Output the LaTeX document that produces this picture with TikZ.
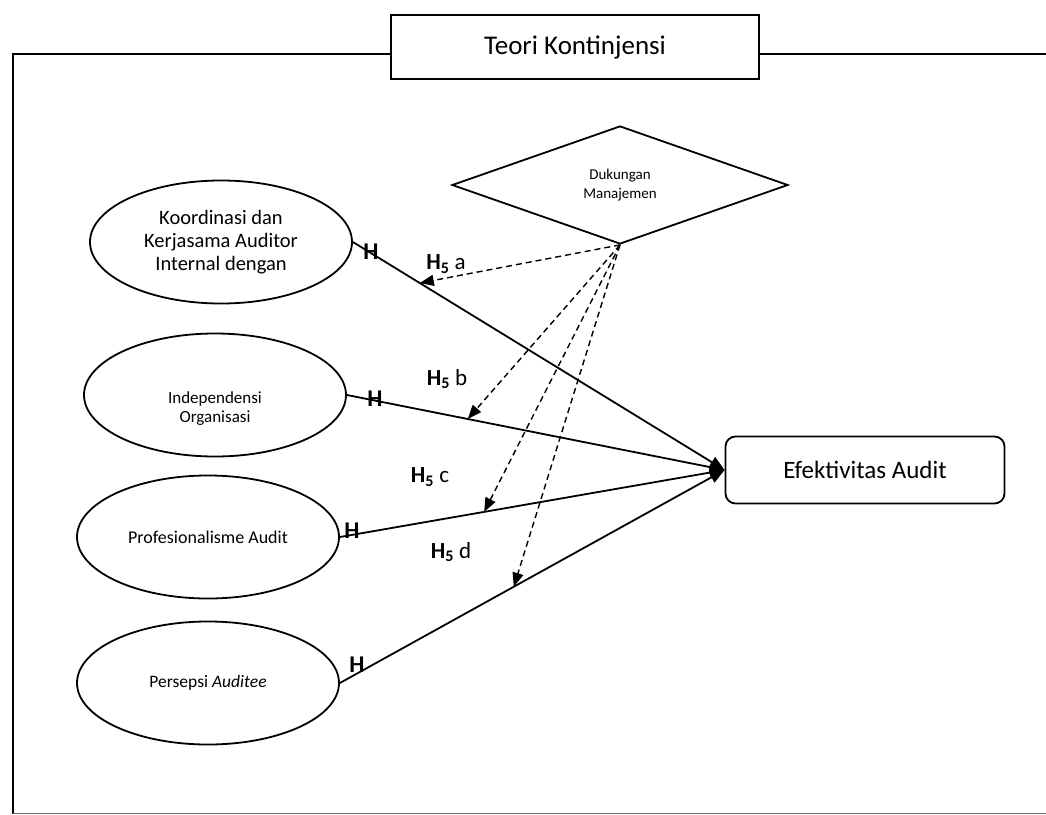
\documentclass[tikz,border=0pt]{standalone}
\usepackage{fontspec}
\setmainfont{Carlito}
\usepackage{tikz}
\usetikzlibrary{shapes.geometric, arrows.meta, positioning}
\definecolor{framegray}{RGB}{110,110,110}

\begin{document}
\begin{tikzpicture}[x=1pt, y=-1pt,
    oval/.style={ellipse, draw, line width=1.8pt, minimum width=262pt, minimum height=123pt, inner sep=0pt, align=center},
    link/.style={line width=1.8pt, -{Triangle[length=15pt, width=12pt]}},
    moder/.style={line width=1.4pt, dash pattern=on 6pt off 4pt, -{Triangle[length=14pt, width=11pt]}},
    hlabel/.style={font=\fontsize{24}{28}\selectfont\bfseries},
    hfive/.style={font=\fontsize{23}{27}\selectfont}]
    \useasboundingbox (0,0) rectangle (1046,814);

    % Teori dan bingkai
    \node[draw, line width=1.8pt, minimum width=368pt, minimum height=64pt, inner sep=0pt, font=\fontsize{27}{31}\selectfont] (teori) at (575,47) {Teori Kontinjensi};
    \draw[line width=1.8pt] (teori.west |- 0,54) -- (13,54) -- (13,814);
    \draw[line width=1.8pt] (teori.east |- 0,54) -- (1046,54);
    \draw[framegray, line width=1pt] (13,813) -- (1046,813);

    % Variabel independen
    \node[oval, font=\fontsize{20.5}{23}\selectfont] (koordinasi) at (221,242) {Koordinasi dan\\Kerjasama Auditor\\Internal dengan};
    \node[oval] (independensi) at (215,395) {};
    \node[font=\fontsize{17}{19}\selectfont, align=center] at (215,409) {Independensi\\Organisasi};
    \node[oval, font=\fontsize{18}{21}\selectfont] (profesional) at (208,537) {Profesionalisme Audit};
    \node[oval, font=\fontsize{17.5}{20}\selectfont] (persepsi) at (208,683) {Persepsi \textit{Auditee}};

    % Moderasi dan dependen
    \node[diamond, draw, line width=1.8pt, minimum width=336pt, minimum height=118pt, inner sep=0pt, align=center, font=\fontsize{15}{19}\selectfont] (dukungan) at (620,185) {Dukungan\\Manajemen};
    \node[draw, rounded corners=10pt, line width=1.8pt, minimum width=279pt, minimum height=67pt, font=\fontsize{25}{30}\selectfont] (efektivitas) at (865,470) {Efektivitas Audit};

    % Hubungan langsung
    \draw[link] (koordinasi.east) -- coordinate[pos=0.18] (ha) (efektivitas.west);
    \draw[link] (independensi.east) -- coordinate[pos=0.32] (hb) (efektivitas.west);
    \draw[link] (profesional.east) -- coordinate[pos=0.375] (hc) (efektivitas.west);
    \draw[link] (persepsi.east) -- coordinate[pos=0.452] (hd) (efektivitas.west);

    % Moderasi
    \draw[moder] (dukungan.south) -- (ha);
    \draw[moder] (dukungan.south) -- (hb);
    \draw[moder] (dukungan.south) -- (hc);
    \draw[moder] (dukungan.south) -- (hd);

    % Label hipotesis
    \node[hlabel] at (371,252) {H};
    \node[hlabel] at (375,399) {H};
    \node[hlabel] at (352,531) {H};
    \node[hlabel] at (357,665) {H};
    \node[hfive] at (446,264) {\textbf{H\textsubscript{5}}~a};
    \node[hfive] at (447,379) {\textbf{H\textsubscript{5}}~b};
    \node[hfive] at (430,477) {\textbf{H\textsubscript{5}}~c};
    \node[hfive] at (451,552) {\textbf{H\textsubscript{5}}~d};
\end{tikzpicture}
\end{document}
